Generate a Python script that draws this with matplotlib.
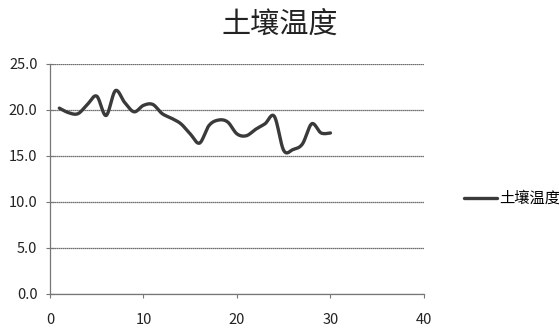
import numpy as np
import matplotlib.pyplot as plt

plt.rcParams['font.family'] = ['Noto Sans CJK SC', 'DejaVu Sans']

# 土壤温度逐日观测 (第1-30天, ℃)
days = list(range(1, 31))
soil_temp = [20.2, 19.7, 19.6, 20.6, 21.5, 19.4, 22.1, 20.8, 19.8, 20.5,
             20.6, 19.6, 19.1, 18.5, 17.4, 16.4, 18.3, 18.9, 18.7, 17.4,
             17.2, 17.9, 18.5, 19.3, 15.6, 15.7, 16.3, 18.5, 17.5, 17.5]
series_name = "土壤温度"
x_ticks = [0, 10, 20, 30, 40]
y_ticks = [0, 5, 10, 15, 20, 25]


def smooth_line(x, y, n=20):
    """Excel 风格平滑线: Catmull-Rom 样条分段插值."""
    x = np.asarray(x, float)
    y = np.asarray(y, float)
    px = np.concatenate([[x[0]], x, [x[-1]]])
    py = np.concatenate([[y[0]], y, [y[-1]]])
    t = np.linspace(0, 1, n, endpoint=False)
    xs, ys = [], []
    for i in range(1, len(px) - 2):
        for p, out in ((px, xs), (py, ys)):
            p0, p1, p2, p3 = p[i - 1], p[i], p[i + 1], p[i + 2]
            out.append(0.5 * (2 * p1 + (-p0 + p2) * t
                              + (2 * p0 - 5 * p1 + 4 * p2 - p3) * t ** 2
                              + (-p0 + 3 * p1 - 3 * p2 + p3) * t ** 3))
    xs = np.concatenate(xs + [[x[-1]]])
    ys = np.concatenate(ys + [[y[-1]]])
    return xs, ys


fig = plt.figure(figsize=(5.59, 3.28), dpi=100)
ax = fig.add_axes([0.0894, 0.1037, 0.669, 0.7013])

sx, sy = smooth_line(days, soil_temp)
ax.plot(sx, sy, color="#3a3a3a", lw=2.4, solid_capstyle="round",
        label=series_name)

ax.set_xlim(0, 40)
ax.set_ylim(0, 25)
ax.set_xticks(x_ticks)
ax.set_yticks(y_ticks)
ax.set_yticklabels([f"{v:.1f}" for v in y_ticks])
ax.yaxis.grid(True, color="#444444", lw=0.9, linestyle=(0, (1, 0.6)))
ax.set_axisbelow(True)

for side in ("top", "right"):
    ax.spines[side].set_visible(False)
for side in ("left", "bottom"):
    ax.spines[side].set_color("#777777")
    ax.spines[side].set_linewidth(0.9)
ax.tick_params(axis="y", direction="inout", length=6, color="#777777",
               labelsize=10.5, labelcolor="#222222", pad=6)
ax.tick_params(axis="x", direction="out", length=3, color="#777777",
               labelsize=10.5, labelcolor="#222222", pad=11)

fig.suptitle("土壤温度", x=0.5, y=0.97, fontsize=21, color="#222222")
fig.legend(loc="center left", bbox_to_anchor=(0.805, 0.395), frameon=False,
           fontsize=11, handlelength=2.2, handletextpad=0.1)

fig.savefig("out.png", dpi=100)
